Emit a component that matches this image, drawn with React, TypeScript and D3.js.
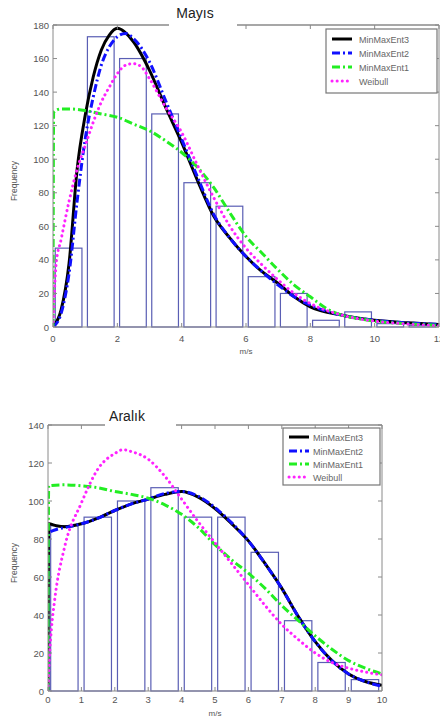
import React from 'react';
import * as d3 from 'd3';

type Pt = [number, number];

const seriesNames = ['MinMaxEnt3', 'MinMaxEnt2', 'MinMaxEnt1', 'Weibull'];

// Mayıs (top panel)
const mayBins = [0, 1, 2, 3, 4, 5, 6, 7, 8, 9, 10, 11];
const mayCounts = [47, 173, 160, 127, 86, 72, 30, 20, 4, 9, 2, 1];
const mayEnt3: Pt[] = [[0, 0], [0.25, 10], [0.5, 38], [0.75, 94], [1, 126], [1.25, 149], [1.5, 165], [1.75, 174], [2, 178], [2.5, 170], [3, 153], [3.5, 131], [4, 110], [4.5, 87], [5, 66], [5.5, 53], [6, 42], [6.5, 33], [7, 26], [7.5, 18], [8, 12], [9, 7], [10, 4], [11, 2.5], [12, 1.5]];
const mayEnt2: Pt[] = [[0, 0], [0.25, 8], [0.5, 32], [0.75, 75], [1, 112], [1.25, 137], [1.5, 156], [1.75, 167], [2, 173], [2.25, 175], [2.5, 172], [3, 158], [3.5, 135], [4, 112], [4.5, 89], [5, 67], [5.5, 53], [6, 42], [6.5, 33], [7, 25], [7.5, 18], [8, 13], [9, 7], [10, 4], [11, 2.5], [12, 1.5]];
const mayEnt1: Pt[] = [[0, 0], [0.02, 128], [0.25, 130], [0.5, 130], [1, 129], [1.5, 127], [2, 125], [2.5, 121], [3, 117], [3.5, 111], [4, 104], [4.5, 95], [5, 83], [5.5, 68], [6, 54], [6.5, 44], [7, 34], [7.5, 25], [8, 18], [8.5, 11], [9, 7], [9.5, 5], [10, 3.5], [11, 2], [12, 1]];
const mayWeibull: Pt[] = [[0, 0], [0.1, 38], [0.25, 52], [0.5, 75], [0.75, 94], [1, 108], [1.25, 122], [1.5, 134], [1.75, 143], [2, 151], [2.25, 156], [2.5, 157], [2.75, 155], [3, 148], [3.5, 131], [4, 116], [4.5, 96], [5, 77], [5.5, 60], [6, 47], [6.5, 37], [7, 28], [7.5, 20], [8, 14], [9, 7], [10, 3.5], [11, 1.8], [12, 0.8]];

// Aralık (bottom panel)
const decBins = [0, 1, 2, 3, 4, 5, 6, 7, 8, 9];
const decCounts = [87, 91.5, 100, 107, 91.5, 91.5, 73, 37, 15, 6];
const decEnt3: Pt[] = [[0, 0], [0.02, 88], [0.25, 87], [0.5, 86.5], [1, 88], [1.5, 91], [2, 95], [2.5, 98.5], [3, 101], [3.5, 103.5], [4, 105], [4.5, 102], [5, 96], [5.5, 88], [6, 79], [6.5, 67], [7, 54], [7.5, 39], [8, 26], [8.5, 16], [9, 9], [9.5, 5], [10, 3]];
const decEnt2: Pt[] = [[0, 0], [0.02, 83], [0.25, 85], [0.5, 86], [1, 88], [1.5, 91], [2, 95], [2.5, 98.5], [3, 101], [3.5, 104], [4, 105], [4.5, 102.5], [5, 96.5], [5.5, 88.5], [6, 79], [6.5, 67], [7, 54], [7.5, 39], [8, 26], [8.5, 16], [9, 9], [9.5, 5], [10, 2.5]];
const decEnt1: Pt[] = [[0, 0], [0.02, 108], [0.5, 108.5], [1, 108], [1.5, 107], [2, 105], [2.5, 103.5], [3, 101.5], [3.5, 98], [4, 93], [4.5, 86], [5, 77], [5.5, 69], [6, 62], [6.5, 54], [7, 45], [7.5, 37], [8, 29], [8.5, 22], [9, 16], [9.5, 12], [10, 9]];
const decWeibull: Pt[] = [[0, 0], [0.05, 20], [0.1, 32], [0.2, 48], [0.5, 76], [1, 99], [1.5, 117], [2, 125], [2.25, 127], [2.5, 126], [3, 122], [3.5, 113], [4, 101], [4.5, 89], [5, 78], [5.5, 67], [6, 56], [6.5, 45], [7, 35], [7.5, 27], [8, 20], [8.5, 15], [9, 12], [9.5, 10], [10, 8.5]];

const styles = [
  { color: '#000000', width: 3, dash: undefined as string | undefined, cap: 'butt' },
  { color: '#1010ff', width: 3, dash: '8,3,2,3', cap: 'butt' },
  { color: '#22ee22', width: 3, dash: '8,3,2,3', cap: 'butt' },
  { color: '#ff22ff', width: 3, dash: '0.1,5', cap: 'round' },
];

const font = '"Liberation Sans", Arial, sans-serif';
const axisColor = '#8a8a8a';
const textColor = '#555';
const barColor = '#5a5eb4';

type PanelProps = {
  title: string;
  left: number; right: number; top: number; bottom: number;
  xMax: number; xStep: number; yMax: number; yStep: number;
  bins: number[]; counts: number[]; barL: number; barR: number;
  series: Pt[][];
  gap: [number, number];
  titleX: number; titleY: number;
  legend: { x: number; y: number; w: number; h: number; rows: number[]; lx: number; tx: number };
  xTickDy: number;
  xLabelY: number;
};

const Panel = (p: PanelProps) => {
  const x = d3.scaleLinear().domain([0, p.xMax]).range([p.left, p.right]);
  const y = d3.scaleLinear().domain([0, p.yMax]).range([p.bottom, p.top]);
  const xt = d3.range(0, p.xMax + 0.001, p.xStep);
  const yt = d3.range(0, p.yMax + 0.001, p.yStep);
  const line = d3.line<Pt>().x((d) => x(d[0])).y((d) => y(d[1])).curve(d3.curveMonotoneX);
  const clipId = 'clip-' + p.top;
  const order = [0, 1, 2, 3];
  return (
    <g>
      <defs>
        <clipPath id={clipId}>
          <rect x={p.left} y={p.top - 3} width={p.right - p.left} height={p.bottom - p.top + 3} />
        </clipPath>
      </defs>
      {p.bins.map((b, i) => (
        <rect key={i} x={x(b + p.barL)} y={y(p.counts[i])} width={x(b + p.barR) - x(b + p.barL)}
          height={y(0) - y(p.counts[i])} fill="none" stroke={barColor} strokeWidth={1.2} />
      ))}
      <g clipPath={`url(#${clipId})`}>
        {order.map((k) => (
          <path key={k} d={line(p.series[k]) || ''} fill="none" stroke={styles[k].color}
            strokeWidth={styles[k].width} strokeDasharray={styles[k].dash}
            strokeLinecap={styles[k].cap as any} strokeLinejoin="round" />
        ))}
      </g>
      {/* axes box */}
      <line x1={p.left} x2={p.left} y1={p.top} y2={p.bottom} stroke={axisColor} />
      <line x1={p.right} x2={p.right} y1={p.top} y2={p.bottom} stroke={axisColor} />
      <line x1={p.left} x2={p.right} y1={p.bottom} y2={p.bottom} stroke={axisColor} />
      <line x1={p.left} x2={p.gap[0]} y1={p.top} y2={p.top} stroke={axisColor} strokeWidth={1.5} />
      <line x1={p.gap[1]} x2={p.right} y1={p.top} y2={p.top} stroke={axisColor} strokeWidth={1.5} />
      {xt.map((t) => (
        <g key={'x' + t}>
          <line x1={x(t)} x2={x(t)} y1={p.bottom} y2={p.bottom - 4} stroke={axisColor} />
          {(x(t) < p.gap[0] || x(t) > p.gap[1]) && (
            <line x1={x(t)} x2={x(t)} y1={p.top} y2={p.top + 4} stroke={axisColor} />
          )}
          <text x={x(t)} y={p.bottom + p.xTickDy} textAnchor="middle" fontSize={9.5} fill={textColor} fontFamily={font}>
            {d3.format('d')(t)}
          </text>
        </g>
      ))}
      {yt.map((t) => (
        <g key={'y' + t}>
          <line x1={p.left} x2={p.left + 4} y1={y(t)} y2={y(t)} stroke={axisColor} />
          <line x1={p.right} x2={p.right - 4} y1={y(t)} y2={y(t)} stroke={axisColor} />
          <text x={p.left - 4} y={y(t) + 3.5} textAnchor="end" fontSize={9.5} fill={textColor} fontFamily={font}>
            {t}
          </text>
        </g>
      ))}
      <text x={p.titleX} y={p.titleY} textAnchor="middle" fontSize={14} fill="#222" fontFamily={font}>
        {p.title}
      </text>
      <text x={(p.left + p.right) / 2} y={p.xLabelY} textAnchor="middle" fontSize={8} fill={textColor} fontFamily={font}>
        m/s
      </text>
      <text transform={`translate(17,${(p.top + p.bottom) / 2 + 5}) rotate(-90)`} textAnchor="middle" fontSize={8.5}
        fill={textColor} fontFamily={font}>
        Frequency
      </text>
      <rect x={p.legend.x} y={p.legend.y} width={p.legend.w} height={p.legend.h} fill="#fff" stroke="#777" strokeWidth={1.2} />
      {seriesNames.map((n, k) => (
        <g key={n}>
          <line x1={p.legend.lx} x2={p.legend.lx + 20} y1={p.legend.rows[k]} y2={p.legend.rows[k]}
            stroke={styles[k].color} strokeWidth={styles[k].width} strokeDasharray={styles[k].dash}
            strokeLinecap={styles[k].cap as any} />
          <text x={p.legend.tx} y={p.legend.rows[k] + 3.5} fontSize={9} fill="#666" fontFamily={font}>
            {n}
          </text>
        </g>
      ))}
    </g>
  );
};

export default function App() {
  return (
    <svg width={440} height={722} style={{ position: 'absolute', left: 0, top: 0, background: '#fff' }}>
      <rect width={440} height={722} fill="#fff" />
      <Panel
        title="Mayıs"
        left={53} right={439} top={25} bottom={327}
        xMax={12} xStep={2} yMax={180} yStep={20}
        bins={mayBins} counts={mayCounts} barL={0.07} barR={0.9}
        series={[mayEnt3, mayEnt2, mayEnt1, mayWeibull]}
        gap={[169, 237]} titleX={195} titleY={18}
        legend={{ x: 326, y: 29, w: 111, h: 64, rows: [39, 53, 67, 81], lx: 332, tx: 359 }}
        xTickDy={15}
        xLabelY={354}
      />
      <Panel
        title="Aralık"
        left={48} right={382} top={425} bottom={691}
        xMax={10} xStep={1} yMax={140} yStep={20}
        bins={decBins} counts={decCounts} barL={0.08} barR={0.9}
        series={[decEnt3, decEnt2, decEnt1, decWeibull]}
        gap={[105, 176]} titleX={127} titleY={421}
        legend={{ x: 283, y: 428, w: 97, h: 57, rows: [437, 451, 464, 477], lx: 289, tx: 313 }}
        xTickDy={12}
        xLabelY={716}
      />
    </svg>
  );
}
